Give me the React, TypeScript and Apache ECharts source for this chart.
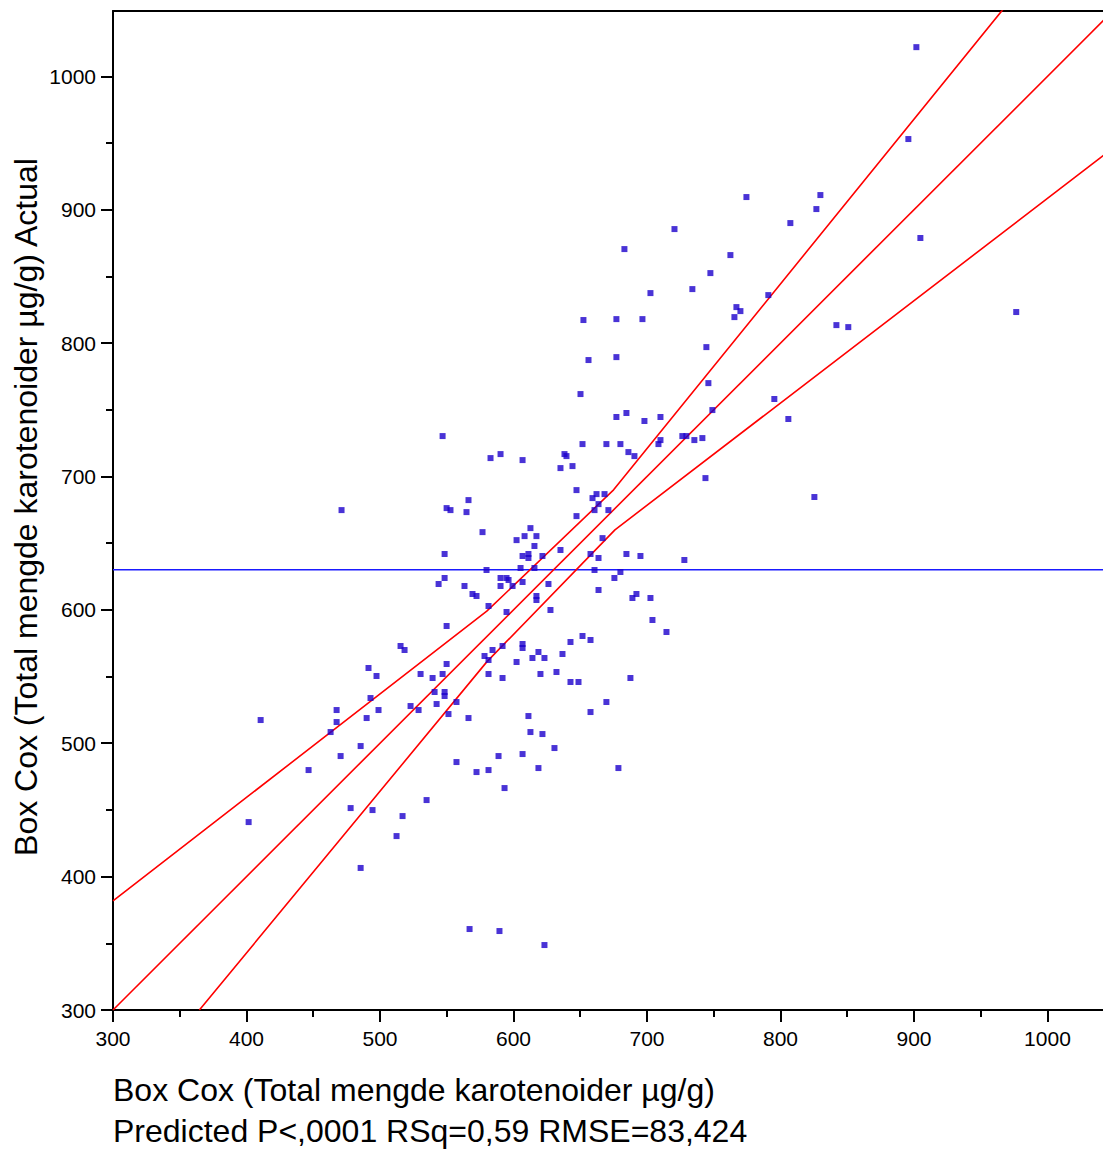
import React, { useEffect, useRef } from "react";
import * as echarts from "echarts";

// Predicted (x) and actual (y) Box Cox values, one entry per sample
const predicted = [
  901.8, 895.8, 904.8, 976.6, 825.4, 774.5, 829.9, 826.9, 807.4, 720.6,
  683.1, 762.5, 747.5, 734.0, 702.6, 790.9, 767.0, 770.0, 765.5, 677.1,
  696.6, 841.9, 850.8, 744.5, 677.1, 746.0, 795.4, 805.9, 749.0, 677.1,
  684.6, 698.1, 710.1, 669.6, 680.1, 686.1, 690.6, 708.6, 710.1, 726.5,
  729.5, 735.5, 741.5, 743.8, 652.4, 656.2, 650.2, 546.9, 582.8, 590.3,
  606.8, 638.2, 639.7, 635.2, 644.2, 651.7, 647.2, 662.2, 668.2, 659.2,
  663.7, 660.7, 671.1, 647.2, 566.3, 549.9, 552.8, 564.8, 576.8, 612.7,
  608.3, 617.2, 602.3, 615.7, 635.2, 666.7, 548.4, 606.8, 611.2, 611.2,
  621.7, 657.7, 663.7, 684.6, 695.1, 579.8, 605.3, 615.7, 660.7, 548.4,
  543.9, 590.3, 594.8, 596.3, 590.3, 599.3, 606.8, 626.2, 563.3, 569.3,
  572.3, 581.3, 594.8, 617.2, 617.2, 627.7, 663.7, 680.1, 675.6, 692.1,
  689.1, 702.6, 704.1, 549.9, 515.4, 518.4, 714.6, 642.7, 651.7, 657.7,
  606.8, 606.8, 591.8, 584.3, 578.3, 581.3, 618.7, 614.2, 623.2, 602.3,
  636.7, 549.9, 530.4, 539.4, 546.9, 581.3, 591.8, 620.2, 632.2, 642.7,
  648.7, 687.6, 540.9, 548.4, 548.4, 522.9, 528.9, 542.4, 557.3, 551.3,
  566.3, 669.6, 657.7, 611.2, 612.7, 621.7, 630.7, 557.3, 588.8, 606.8,
  572.3, 581.3, 618.7, 678.6, 593.3, 534.9, 491.4, 497.4, 492.9, 467.5,
  467.5, 498.9, 490.0, 463.0, 485.5, 470.5, 446.5, 410.6, 401.6, 478.0,
  494.4, 516.9, 512.4, 485.5, 567.1, 589.5, 623.2, 471.2, 728.0,
];
const actual = [
  1021.9, 953.0, 878.8, 823.3, 684.6, 909.5, 911.0, 900.5, 890.0, 885.5,
  870.5, 866.0, 852.5, 840.5, 837.5, 836.0, 827.0, 824.0, 819.5, 818.0,
  818.0, 813.5, 812.0, 797.0, 789.5, 770.0, 758.1, 743.1, 749.8, 744.6,
  747.6, 741.6, 744.6, 724.3, 724.3, 718.3, 715.3, 724.3, 727.3, 730.3,
  730.3, 727.3, 728.8, 698.8, 817.3, 787.3, 761.8, 730.3, 713.8, 716.8,
  712.3, 716.8, 715.3, 706.3, 707.8, 724.3, 689.8, 686.8, 686.8, 683.8,
  679.3, 674.8, 674.8, 670.3, 682.3, 676.3, 674.8, 673.3, 658.3, 661.3,
  655.3, 655.3, 652.3, 647.9, 644.9, 653.8, 641.9, 640.4, 641.9, 638.9,
  640.4, 641.9, 638.9, 641.9, 640.4, 629.9, 631.4, 631.4, 629.9, 623.9,
  619.4, 623.9, 623.9, 622.4, 617.9, 617.9, 620.9, 619.4, 617.9, 611.9,
  610.4, 602.9, 598.4, 610.4, 607.4, 599.9, 614.9, 628.4, 623.9, 611.9,
  608.9, 608.9, 592.4, 587.9, 572.9, 569.9, 583.4, 575.9, 580.4, 577.4,
  574.4, 571.4, 572.9, 569.9, 565.4, 562.4, 568.4, 563.9, 563.9, 560.9,
  566.9, 559.4, 551.9, 548.9, 551.9, 551.9, 548.9, 551.9, 553.4, 545.9,
  545.9, 548.9, 538.4, 538.4, 535.4, 527.9, 524.9, 529.4, 530.9, 521.9,
  518.9, 530.9, 523.4, 520.4, 508.4, 506.9, 496.4, 485.9, 490.4, 491.9,
  478.4, 479.9, 481.4, 481.4, 466.4, 457.4, 556.4, 550.4, 533.9, 524.9,
  515.9, 524.9, 518.9, 508.4, 497.9, 490.4, 479.9, 517.4, 440.9, 451.4,
  449.9, 445.4, 430.4, 406.5, 360.7, 359.2, 348.7, 674.8, 637.4,
];

// Mean of the actual values (horizontal reference line)
const meanActual = 630;

// Line of fit (actual = predicted) and its confidence curves
const fitLine = [
  [300, 300],
  [1042, 1042],
];
const upperCurve = [
  [300, 381.8],
  [580, 599],
  [675, 690],
  [966.5, 1050],
];
const lowerCurve = [
  [364.7, 300],
  [580, 561],
  [676, 660],
  [1042, 940.7],
];

const majorTicks = [300, 400, 500, 600, 700, 800, 900, 1000];
const minorTicks = [350, 450, 550, 650, 750, 850, 950];

const X_MIN = 300;
const X_MAX = 1041.6;
const Y_MIN = 300;
const Y_MAX = 1049;

const xTitle = "Box Cox (Total mengde karotenoider µg/g)";
const statsLine = "Predicted P<,0001 RSq=0,59 RMSE=83,424";
const yTitle = "Box Cox (Total mengde karotenoider µg/g) Actual";

const FONT = '"Liberation Sans", Arial, sans-serif';

export default function App() {
  const ref = useRef<HTMLDivElement>(null);

  useEffect(() => {
    if (!ref.current) return;
    const chart = echarts.init(ref.current, undefined, { renderer: "svg" });

    const blackLine = { color: "#000", width: 2 };

    const mainAxis = (min: number, max: number, position: string) => ({
      type: "value",
      min,
      max,
      position,
      splitLine: { show: false },
      axisLine: { show: true, onZero: false, lineStyle: blackLine },
      axisTick: {
        show: true,
        inside: false,
        length: 12,
        customValues: majorTicks,
        lineStyle: blackLine,
      },
      axisLabel: {
        show: true,
        customValues: majorTicks,
        formatter: (v: number) => String(v),
        margin: position === "left" ? 17 : 18,
        color: "#000",
        fontSize: 21,
        fontFamily: FONT,
      },
    });

    const minorAxis = (min: number, max: number, position: string) => ({
      type: "value",
      min,
      max,
      position,
      splitLine: { show: false },
      axisLine: { show: false, onZero: false },
      axisTick: {
        show: true,
        inside: false,
        length: 7,
        customValues: minorTicks,
        lineStyle: blackLine,
      },
      axisLabel: { show: false },
    });

    const curveStyle = { color: "#ff0000", width: 1.6 };

    chart.setOption({
      animation: false,
      backgroundColor: "#fff",
      grid: { left: 113, top: 11, width: 990, height: 999, containLabel: false },
      xAxis: [
        mainAxis(X_MIN, X_MAX, "bottom"),
        minorAxis(X_MIN, X_MAX, "bottom"),
        {
          type: "value",
          min: X_MIN,
          max: X_MAX,
          position: "top",
          splitLine: { show: false },
          axisLine: { show: true, onZero: false, lineStyle: blackLine },
          axisTick: { show: false },
          axisLabel: { show: false },
        },
      ],
      yAxis: [mainAxis(Y_MIN, Y_MAX, "left"), minorAxis(Y_MIN, Y_MAX, "left")],
      series: [
        {
          type: "line",
          data: [
            [X_MIN, meanActual],
            [X_MAX, meanActual],
          ],
          showSymbol: false,
          lineStyle: { color: "#1a1aff", width: 1.5 },
          z: 2,
        },
        {
          type: "line",
          data: fitLine,
          showSymbol: false,
          lineStyle: curveStyle,
          clip: true,
          z: 2,
        },
        {
          type: "line",
          data: upperCurve,
          showSymbol: false,
          lineStyle: curveStyle,
          clip: true,
          z: 2,
        },
        {
          type: "line",
          data: lowerCurve,
          showSymbol: false,
          lineStyle: curveStyle,
          clip: true,
          z: 2,
        },
        {
          type: "scatter",
          data: predicted.map((x, i) => [x, actual[i]]),
          symbol: "rect",
          symbolSize: 6,
          itemStyle: { color: "#1c00cc" },
          z: 3,
        },
      ],
      graphic: [
        {
          type: "text",
          x: 26,
          y: 507,
          rotation: Math.PI / 2,
          style: {
            text: yTitle,
            fill: "#000",
            font: `32px ${FONT}`,
            textAlign: "center",
            textVerticalAlign: "middle",
          },
        },
        {
          type: "text",
          x: 113,
          y: 1090,
          style: {
            text: xTitle,
            fill: "#000",
            font: `32px ${FONT}`,
            textAlign: "left",
            textVerticalAlign: "middle",
          },
        },
        {
          type: "text",
          x: 113,
          y: 1131,
          style: {
            text: statsLine,
            fill: "#000",
            font: `32px ${FONT}`,
            textAlign: "left",
            textVerticalAlign: "middle",
          },
        },
      ],
    });

    return () => chart.dispose();
  }, []);

  return (
    <div
      ref={ref}
      style={{
        position: "absolute",
        left: 0,
        top: 0,
        width: 1103,
        height: 1149,
        background: "#fff",
      }}
    />
  );
}
